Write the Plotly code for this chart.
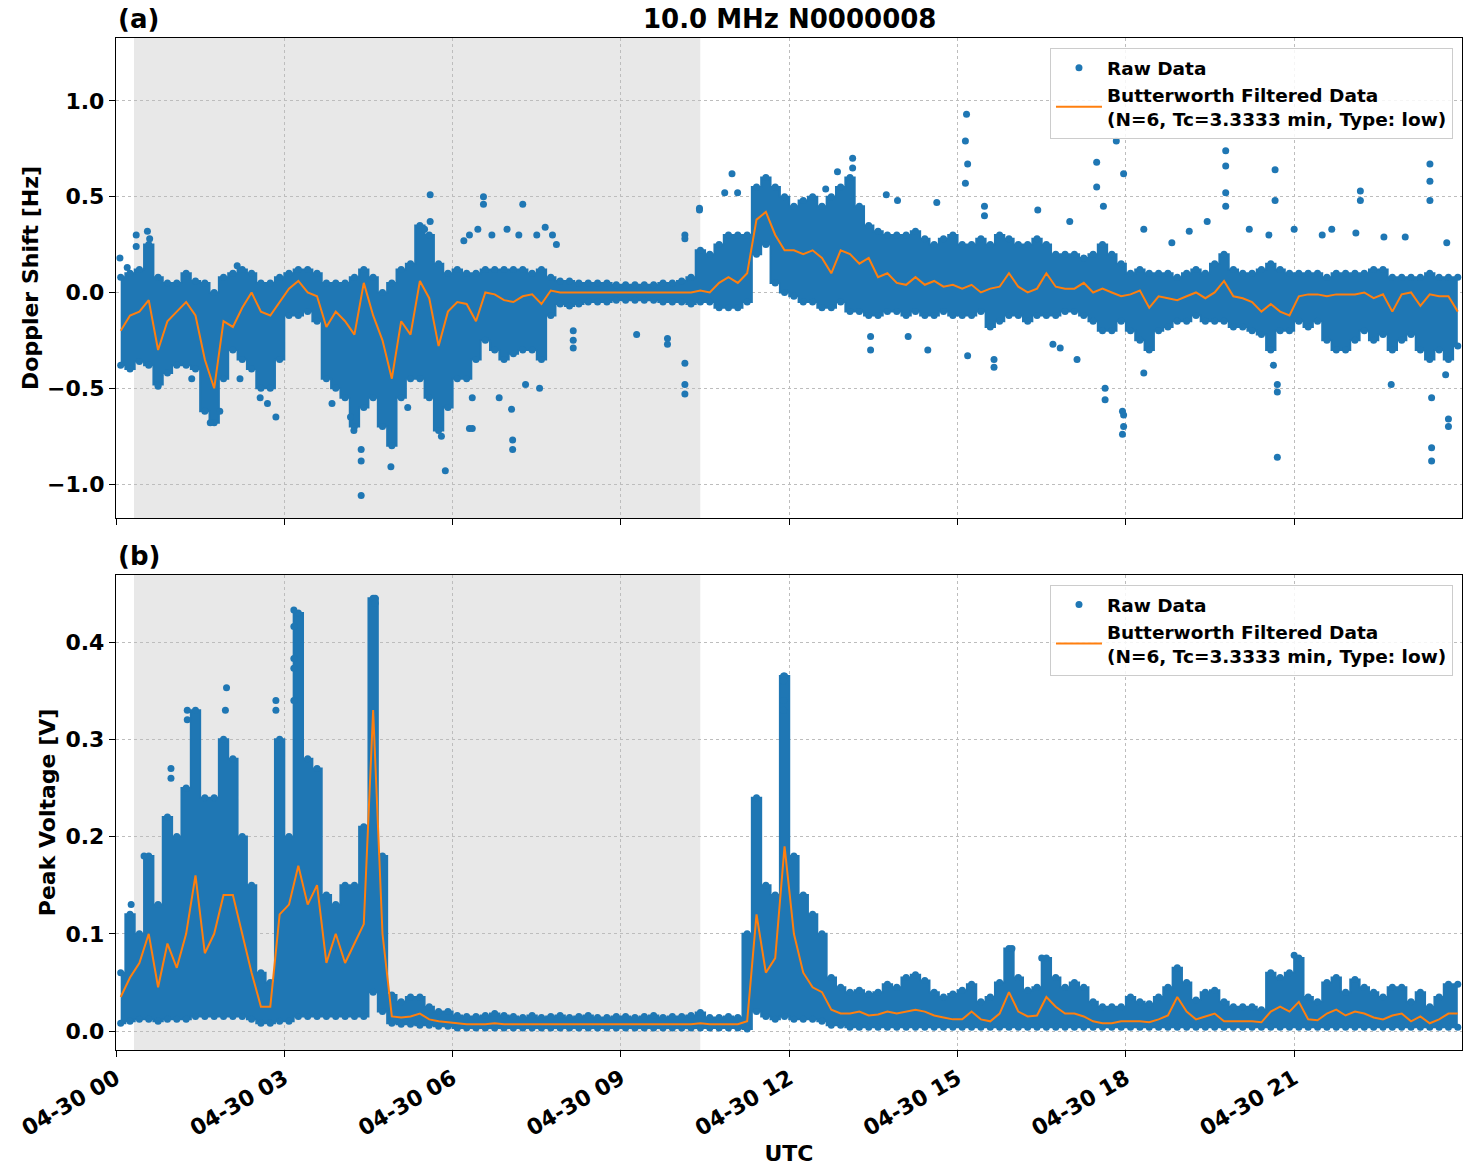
import pandas as pd
import plotly.graph_objects as go

# ---------------- data (10-minute bins) ----------------
bin_times = pd.date_range("2024-04-30 00:05", periods=144, freq="10min")

# Doppler shift [Hz]: upper / lower edge of the raw-data band and filtered value
dop_hi = [
    0.08, 0.10, 0.12, 0.25, 0.08, 0.05,
    0.05, 0.10, 0.06, 0.05, 0.00, 0.08,
    0.10, 0.12, 0.10, 0.05, 0.05, 0.08,
    0.10, 0.12, 0.12, 0.10, 0.05, 0.05,
    0.05, 0.08, 0.12, 0.08, 0.00, 0.05,
    0.12, 0.15, 0.35, 0.30, 0.15, 0.10,
    0.12, 0.10, 0.10, 0.12, 0.12, 0.12,
    0.12, 0.12, 0.10, 0.12, 0.08, 0.06,
    0.06, 0.05, 0.05, 0.05, 0.05, 0.04,
    0.04, 0.04, 0.04, 0.04, 0.05, 0.05,
    0.06, 0.08, 0.22, 0.20, 0.25, 0.30,
    0.30, 0.30, 0.55, 0.60, 0.55, 0.50,
    0.45, 0.48, 0.50, 0.45, 0.50, 0.55,
    0.60, 0.45, 0.35, 0.32, 0.30, 0.30,
    0.30, 0.32, 0.28, 0.25, 0.28, 0.30,
    0.25, 0.25, 0.28, 0.25, 0.30, 0.28,
    0.25, 0.25, 0.28, 0.25, 0.20, 0.20,
    0.20, 0.18, 0.20, 0.25, 0.20, 0.15,
    0.10, 0.12, 0.10, 0.10, 0.10, 0.08,
    0.10, 0.12, 0.10, 0.15, 0.20, 0.12,
    0.10, 0.10, 0.12, 0.15, 0.12, 0.10,
    0.10, 0.10, 0.10, 0.08, 0.10, 0.10,
    0.10, 0.10, 0.12, 0.12, 0.08, 0.08,
    0.08, 0.08, 0.10, 0.08, 0.08, 0.08,
]
dop_lo = [
    -0.38, -0.40, -0.36, -0.38, -0.48, -0.42,
    -0.38, -0.38, -0.40, -0.62, -0.68, -0.45,
    -0.30, -0.35, -0.40, -0.50, -0.50, -0.35,
    -0.12, -0.12, -0.10, -0.15, -0.45, -0.50,
    -0.55, -0.70, -0.60, -0.55, -0.70, -0.80,
    -0.55, -0.45, -0.45, -0.55, -0.72, -0.60,
    -0.45, -0.45, -0.35, -0.25, -0.30, -0.35,
    -0.32, -0.30, -0.30, -0.35, -0.12, -0.06,
    -0.07, -0.06, -0.05, -0.05, -0.05, -0.04,
    -0.04, -0.04, -0.04, -0.04, -0.05, -0.05,
    -0.05, -0.06, -0.05, -0.05, -0.08, -0.08,
    -0.08, -0.05, 0.20, 0.25, 0.05, 0.00,
    -0.02, -0.05, -0.05, -0.08, -0.08, -0.05,
    -0.10, -0.10, -0.12, -0.12, -0.10, -0.10,
    -0.12, -0.10, -0.12, -0.12, -0.10, -0.12,
    -0.12, -0.12, -0.10, -0.18, -0.15, -0.12,
    -0.12, -0.15, -0.12, -0.12, -0.12, -0.10,
    -0.10, -0.12, -0.15, -0.20, -0.20, -0.15,
    -0.20, -0.25, -0.30, -0.20, -0.18, -0.15,
    -0.15, -0.12, -0.15, -0.15, -0.15, -0.18,
    -0.18, -0.20, -0.22, -0.30, -0.20, -0.20,
    -0.15, -0.18, -0.15, -0.25, -0.30, -0.30,
    -0.25, -0.20, -0.25, -0.22, -0.30, -0.25,
    -0.22, -0.30, -0.35, -0.30, -0.35, -0.28,
]
dop_filt = [
    -0.20, -0.12, -0.10, -0.04, -0.30, -0.15,
    -0.10, -0.05, -0.12, -0.35, -0.50, -0.15,
    -0.18, -0.08, 0.00, -0.10, -0.12, -0.05,
    0.02, 0.06, 0.00, -0.02, -0.18, -0.10,
    -0.15, -0.22, 0.05, -0.12, -0.25, -0.45,
    -0.15, -0.22, 0.06, -0.03, -0.28, -0.10,
    -0.05, -0.06, -0.15, 0.00, -0.01, -0.04,
    -0.05, -0.02, -0.01, -0.06, 0.01, 0.00,
    0.00, 0.00, 0.00, 0.00, 0.00, 0.00,
    0.00, 0.00, 0.00, 0.00, 0.00, 0.00,
    0.00, 0.00, 0.01, 0.00, 0.05, 0.08,
    0.05, 0.10, 0.38, 0.42, 0.30, 0.22,
    0.22, 0.20, 0.22, 0.18, 0.10, 0.22,
    0.20, 0.15, 0.18, 0.08, 0.10, 0.05,
    0.04, 0.08, 0.04, 0.06, 0.03, 0.04,
    0.02, 0.04, 0.00, 0.02, 0.03, 0.10,
    0.03, 0.00, 0.02, 0.10, 0.03, 0.02,
    0.02, 0.05, 0.00, 0.02, 0.00, -0.02,
    -0.01, 0.01, -0.08, -0.02, -0.03, -0.04,
    -0.02, 0.00, -0.03, 0.00, 0.06, -0.02,
    -0.03, -0.05, -0.10, -0.06, -0.10, -0.12,
    -0.02, -0.01, -0.01, -0.02, -0.01, -0.01,
    -0.01, 0.00, -0.03, -0.01, -0.10, -0.01,
    0.00, -0.07, -0.01, -0.02, -0.02, -0.10,
]
# isolated raw Doppler points (hour of day, Hz)
dop_out_hour = [
    0.07, 0.36, 0.36, 0.56, 0.60, 0.20, 0.75, 1.35, 1.68, 1.85, 2.21, 2.57, 2.70, 2.85, 2.16,
    3.85, 4.18, 4.24, 4.37, 4.37, 4.37, 4.90, 5.20, 5.60, 5.60, 5.50, 5.87, 5.80,
    6.55, 6.55, 6.20, 6.30, 6.45, 6.70, 6.97, 7.25, 7.18, 7.50, 7.65, 7.78, 7.85,
    6.30, 6.35, 6.35, 6.83, 7.05, 7.07, 7.07, 7.30, 7.55, 8.15, 8.15, 8.15,
    9.28, 9.83, 9.83, 10.14, 10.14, 10.14, 10.14, 10.14, 10.40, 10.40, 10.98, 11.08, 10.85,
    12.86, 13.13, 13.13, 12.65, 13.45, 13.45, 13.73, 13.93, 14.12, 14.47, 14.63,
    15.16, 15.14, 15.18, 15.14, 15.18, 15.48, 15.48, 15.65, 15.65, 16.43, 16.70, 16.83,
    17.00, 17.13, 17.48, 17.48, 17.60, 17.63, 17.63, 17.83, 17.94, 17.94,
    17.96, 17.96, 17.96, 18.32, 18.32, 18.82, 19.13, 19.45, 19.78, 19.78, 19.78, 19.78,
    20.20, 20.55, 20.66, 20.66, 20.70, 20.70, 20.70, 20.63, 21.00, 21.50, 21.67,
    22.18, 22.18, 22.10, 22.60, 22.73, 22.98, 23.42, 23.42, 23.42, 23.45, 23.45, 23.45,
    23.75, 23.75, 23.72, 23.70,
]
dop_out_val = [
    0.18, 0.30, 0.24, 0.32, 0.28, 0.13, -0.49, -0.45, -0.68, -0.62, -0.45, -0.55, -0.58, -0.65, 0.14,
    -0.58, -0.65, -0.72, -0.82, -0.88, -1.06, -0.91, -0.60, 0.37, 0.51, 0.33, -0.93, -0.75,
    0.50, 0.46, 0.27, 0.30, 0.33, 0.30, 0.33, 0.46, 0.30, 0.30, 0.34, 0.30, 0.25,
    -0.71, -0.71, -0.55, -0.55, -0.61, -0.82, -0.77, -0.48, -0.50, -0.20, -0.29, -0.25,
    -0.22, -0.24, -0.27, 0.30, 0.28, -0.37, -0.48, -0.53, 0.44, 0.43, 0.62, 0.52, 0.52,
    0.63, 0.70, 0.65, 0.54, -0.30, -0.23, 0.51, 0.48, -0.23, -0.30, 0.47,
    0.93, 0.79, 0.67, 0.57, -0.33, 0.45, 0.40, -0.39, -0.35, 0.43, -0.27, -0.29,
    0.37, -0.35, 0.68, 0.55, 0.45, -0.56, -0.50, 0.79, -0.74, -0.62,
    -0.64, -0.70, 0.62, -0.42, 0.33, 0.26, 0.32, 0.37, 0.74, 0.66, 0.52, 0.45,
    0.33, 0.30, 0.64, 0.48, -0.48, -0.52, -0.86, -0.38, 0.33, 0.30, 0.33,
    0.53, 0.48, 0.31, 0.29, -0.48, 0.29, 0.67, 0.58, 0.48, -0.55, -0.81, -0.88,
    -0.70, -0.66, 0.26, -0.43,
]

# Peak voltage [V]
volt_hi = [
    0.060, 0.120, 0.100, 0.180, 0.130, 0.220,
    0.200, 0.250, 0.330, 0.240, 0.240, 0.300,
    0.280, 0.200, 0.150, 0.060, 0.050, 0.300,
    0.200, 0.430, 0.280, 0.270, 0.140, 0.130,
    0.150, 0.150, 0.210, 0.445, 0.180, 0.037,
    0.030, 0.035, 0.035, 0.025, 0.020, 0.020,
    0.016, 0.015, 0.015, 0.016, 0.018, 0.016,
    0.015, 0.014, 0.016, 0.014, 0.015, 0.016,
    0.014, 0.015, 0.016, 0.014, 0.014, 0.015,
    0.015, 0.014, 0.015, 0.016, 0.014, 0.015,
    0.015, 0.016, 0.019, 0.014, 0.014, 0.015,
    0.014, 0.100, 0.240, 0.150, 0.140, 0.365,
    0.180, 0.140, 0.120, 0.100, 0.055, 0.045,
    0.040, 0.042, 0.038, 0.040, 0.048, 0.045,
    0.055, 0.058, 0.052, 0.040, 0.035, 0.038,
    0.042, 0.048, 0.030, 0.035, 0.050, 0.085,
    0.055, 0.042, 0.045, 0.075, 0.055, 0.045,
    0.050, 0.045, 0.030, 0.025, 0.025, 0.025,
    0.035, 0.030, 0.028, 0.035, 0.045, 0.065,
    0.050, 0.032, 0.040, 0.042, 0.030, 0.025,
    0.025, 0.025, 0.022, 0.060, 0.055, 0.060,
    0.075, 0.035, 0.030, 0.050, 0.055, 0.040,
    0.053, 0.045, 0.040, 0.035, 0.045, 0.045,
    0.030, 0.040, 0.025, 0.035, 0.048, 0.048,
]
volt_lo = [
    0.008, 0.010, 0.012, 0.012, 0.010, 0.012,
    0.012, 0.012, 0.015, 0.015, 0.015, 0.015,
    0.015, 0.015, 0.012, 0.008, 0.008, 0.010,
    0.010, 0.015, 0.015, 0.015, 0.015, 0.015,
    0.015, 0.015, 0.015, 0.040, 0.020, 0.008,
    0.007, 0.007, 0.006, 0.006, 0.005, 0.005,
    0.003, 0.003, 0.003, 0.003, 0.003, 0.003,
    0.003, 0.003, 0.003, 0.003, 0.003, 0.003,
    0.003, 0.003, 0.003, 0.003, 0.003, 0.003,
    0.003, 0.003, 0.003, 0.003, 0.003, 0.003,
    0.003, 0.003, 0.003, 0.003, 0.003, 0.003,
    0.003, 0.002, 0.020, 0.015, 0.012, 0.015,
    0.012, 0.012, 0.012, 0.010, 0.006, 0.006,
    0.004, 0.004, 0.004, 0.004, 0.004, 0.004,
    0.004, 0.004, 0.004, 0.004, 0.004, 0.004,
    0.004, 0.004, 0.004, 0.004, 0.004, 0.004,
    0.004, 0.004, 0.004, 0.004, 0.004, 0.004,
    0.004, 0.004, 0.004, 0.004, 0.004, 0.004,
    0.004, 0.004, 0.004, 0.004, 0.004, 0.004,
    0.004, 0.004, 0.004, 0.004, 0.004, 0.004,
    0.004, 0.004, 0.004, 0.004, 0.004, 0.004,
    0.004, 0.004, 0.004, 0.004, 0.004, 0.004,
    0.004, 0.004, 0.004, 0.004, 0.004, 0.004,
    0.004, 0.004, 0.004, 0.004, 0.004, 0.004,
]
volt_filt = [
    0.035, 0.055, 0.070, 0.100, 0.045, 0.090,
    0.065, 0.100, 0.160, 0.080, 0.100, 0.140,
    0.140, 0.100, 0.060, 0.025, 0.025, 0.120,
    0.130, 0.170, 0.130, 0.150, 0.070, 0.100,
    0.070, 0.090, 0.110, 0.330, 0.100, 0.015,
    0.014, 0.015, 0.018, 0.012, 0.010, 0.009,
    0.008, 0.007, 0.007, 0.007, 0.008, 0.007,
    0.007, 0.007, 0.007, 0.007, 0.007, 0.007,
    0.007, 0.007, 0.007, 0.007, 0.007, 0.007,
    0.007, 0.007, 0.007, 0.007, 0.007, 0.007,
    0.007, 0.007, 0.008, 0.007, 0.007, 0.007,
    0.007, 0.010, 0.120, 0.060, 0.075, 0.190,
    0.100, 0.060, 0.045, 0.040, 0.022, 0.018,
    0.018, 0.020, 0.016, 0.017, 0.020, 0.018,
    0.020, 0.022, 0.020, 0.016, 0.014, 0.012,
    0.012, 0.020, 0.012, 0.010, 0.018, 0.040,
    0.020, 0.015, 0.016, 0.035, 0.025, 0.018,
    0.018, 0.015, 0.010, 0.008, 0.008, 0.010,
    0.010, 0.010, 0.009, 0.012, 0.016, 0.035,
    0.020, 0.012, 0.015, 0.018, 0.010, 0.010,
    0.010, 0.010, 0.009, 0.020, 0.025, 0.020,
    0.030, 0.012, 0.011, 0.018, 0.022, 0.016,
    0.020, 0.018, 0.014, 0.012, 0.016, 0.018,
    0.010, 0.015, 0.008, 0.012, 0.018, 0.018,
]
volt_out_hour = [0.27, 0.50, 0.98, 0.98, 1.27, 1.27, 1.97, 1.95, 2.85, 2.85, 3.17, 3.17, 3.17,
                 3.17, 3.17, 4.62, 4.62, 11.90, 11.90, 11.90, 11.90, 15.97, 21.00, 16.50]
volt_out_val = [0.13, 0.18, 0.27, 0.26, 0.33, 0.32, 0.353, 0.33, 0.34, 0.33, 0.433, 0.416, 0.383,
                0.373, 0.34, 0.445, 0.44, 0.365, 0.36, 0.34, 0.33, 0.085, 0.078, 0.075]

night_start = "2024-04-30 00:19:15"
night_end = "2024-04-30 10:24:50"
x_ticks = pd.date_range("2024-04-30 00:00", periods=8, freq="3h")
x_range = ["2024-04-30 00:00:00", "2024-04-30 23:59:30"]

title_text = "10.0 MHz N0000008"
filt_label = "Butterworth Filtered Data<br>(N=6, Tc=3.3333 min, Type: low)"

# ---------------- figure ----------------
BLUE = "#1f77b4"
ORANGE = "#ff7f0e"
base = pd.Timestamp("2024-04-30")
bin_str = [t.strftime("%Y-%m-%d %H:%M:%S") for t in bin_times]


def to_time(hours):
    return [(base + pd.to_timedelta(h, unit="h")).strftime("%Y-%m-%d %H:%M:%S") for h in hours]


fig = go.Figure()
panels = [
    ("x", "y", dop_lo, dop_hi, dop_filt, dop_out_hour, dop_out_val, "legend"),
    ("x2", "y2", volt_lo, volt_hi, volt_filt, volt_out_hour, volt_out_val, "legend2"),
]
for xa, ya, lo, hi, filt, oh, ov, lg in panels:
    # dense raw-data band: filled between the lower and upper envelope
    fig.add_trace(go.Scatter(x=bin_str, y=lo, mode="lines", xaxis=xa, yaxis=ya,
                             line=dict(color=BLUE, width=2, shape="hvh"),
                             showlegend=False, hoverinfo="skip"))
    fig.add_trace(go.Scatter(x=bin_str, y=hi, mode="lines", xaxis=xa, yaxis=ya,
                             line=dict(color=BLUE, width=2, shape="hvh"),
                             fill="tonexty", fillcolor=BLUE,
                             showlegend=False, hoverinfo="skip"))
    # dotted edges of the band
    fig.add_trace(go.Scatter(x=bin_str + bin_str, y=list(lo) + list(hi), mode="markers",
                             xaxis=xa, yaxis=ya, marker=dict(color=BLUE, size=7),
                             showlegend=False, hoverinfo="skip"))
    fig.add_trace(go.Scatter(x=to_time(oh), y=ov, mode="markers", xaxis=xa, yaxis=ya,
                             marker=dict(color=BLUE, size=7), name="Raw Data", legend=lg))
    fig.add_trace(go.Scatter(x=bin_str, y=filt, mode="lines", xaxis=xa, yaxis=ya,
                             line=dict(color=ORANGE, width=2), name=filt_label, legend=lg))

for xr, yr in [("x", "y"), ("x2", "y2")]:
    fig.add_shape(type="rect", xref=xr, yref=f"{yr} domain", x0=night_start, x1=night_end,
                  y0=0, y1=1, fillcolor="#e8e8e8", line=dict(width=0), layer="below")

FONT = dict(family="DejaVu Sans", color="black", weight="bold")
axis_common = dict(showline=True, linecolor="black", linewidth=1.3, mirror=True,
                   ticks="outside", ticklen=6, tickwidth=1.3, tickcolor="black",
                   showgrid=True, gridcolor="#bdbdbd", griddash="dot", gridwidth=1,
                   zeroline=False, tickfont=dict(size=22, **FONT))

LEG = dict(xanchor="right", yanchor="top", bgcolor="rgba(255,255,255,0.85)",
           bordercolor="#cccccc", borderwidth=1, font=dict(size=18.5, **FONT),
           itemwidth=46, tracegroupgap=0, traceorder="normal")

fig.update_layout(
    width=1471, height=1172,
    margin=dict(l=116, r=9, t=38, b=122),
    paper_bgcolor="white", plot_bgcolor="rgba(0,0,0,0)",
    font=dict(size=18, **FONT),
    showlegend=True,
    xaxis=dict(domain=[0, 1], anchor="y", range=x_range, type="date",
               tickvals=list(x_ticks), showticklabels=False, matches="x2", **axis_common),
    xaxis2=dict(domain=[0, 1], anchor="y2", range=x_range, type="date",
                tickvals=list(x_ticks), tickformat="%m-%d %H", tickangle=-30,
                title=dict(text="UTC", font=dict(size=22, **FONT), standoff=3), **axis_common),
    yaxis=dict(domain=[0.5257, 1.0], anchor="x", range=[-1.177, 1.328],
               tickvals=[-1.0, -0.5, 0.0, 0.5, 1.0], tickformat=".1f",
               title=dict(text="Doppler Shift [Hz]", font=dict(size=22, **FONT), standoff=2),
               **axis_common),
    yaxis2=dict(domain=[0.0, 0.4694], anchor="x2", range=[-0.0195, 0.469],
                tickvals=[0.0, 0.1, 0.2, 0.3, 0.4], tickformat=".1f",
                title=dict(text="Peak Voltage [V]", font=dict(size=22, **FONT), standoff=3),
                **axis_common),
    legend=dict(x=0.9933, y=0.990, **LEG),
    legend2=dict(x=0.9933, y=0.4595, **LEG),
    annotations=[
        dict(text=title_text, x=0.5, y=1.0, xref="paper", yref="paper", xanchor="center",
             yanchor="bottom", yshift=2, showarrow=False, font=dict(size=26, **FONT)),
        dict(text="(a)", x=0.0, y=1.0, xref="paper", yref="paper", xanchor="left",
             yanchor="bottom", yshift=2, showarrow=False, font=dict(size=26, **FONT)),
        dict(text="(b)", x=0.0, y=0.4694, xref="paper", yref="paper", xanchor="left",
             yanchor="bottom", yshift=2, showarrow=False, font=dict(size=26, **FONT)),
    ],
)

fig.write_html("out.html")
